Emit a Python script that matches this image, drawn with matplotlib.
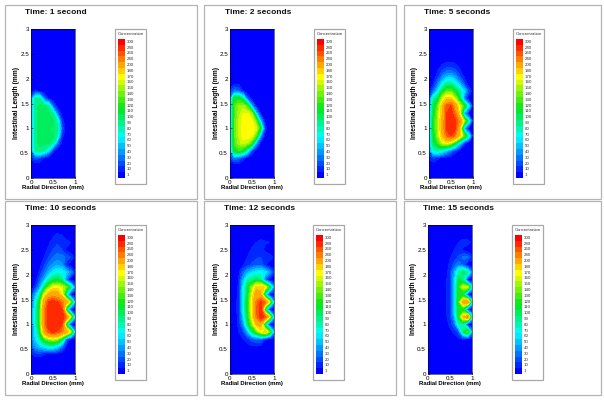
import numpy as np
from matplotlib import pyplot as plt
from matplotlib.colors import LinearSegmentedColormap
from matplotlib.patches import Rectangle

plt.rcParams['font.family'] = ['Liberation Sans', 'DejaVu Sans']

W, H = 604, 401

titles = ["Time: 1 second", "Time: 2 seconds", "Time: 5 seconds",
          "Time: 10 seconds", "Time: 12 seconds", "Time: 15 seconds"]
levels = [1, 10, 20, 30, 40, 50, 60, 70, 80, 90, 100, 110, 120, 130, 140, 150,
          160, 170, 180, 200, 240, 260, 280, 300]
radial = [0, 0.1, 0.2, 0.3, 0.4, 0.5, 0.6, 0.7, 0.8, 0.9, 1.0]
# rows run from the top of the plot to the bottom
axial = [3.0, 2.95, 2.8, 2.65, 2.5, 2.35, 2.2, 2.05, 1.9, 1.75, 1.6, 1.45, 1.3,
         1.15, 1.0, 0.85, 0.7, 0.55, 0.4, 0.25, 0.0]
blank = [1, 1, 1, 1, 1, 1, 1, 1, 1, 1, 1]

conc_1s = [blank, blank, blank, blank, blank, blank, blank, blank, blank,
           [3, 12, 8, 2, 1, 1, 1, 1, 1, 1, 1],
           [35, 92, 92, 35, 8, 2, 1, 1, 1, 1, 1],
           [38, 98, 102, 102, 92, 30, 6, 1, 1, 1, 1],
           [38, 98, 102, 102, 102, 90, 35, 5, 1, 1, 1],
           [38, 98, 102, 102, 102, 102, 88, 15, 2, 1, 1],
           [38, 98, 102, 102, 102, 102, 92, 30, 2, 1, 1],
           [38, 98, 102, 102, 102, 102, 88, 15, 2, 1, 1],
           [38, 98, 102, 102, 102, 90, 35, 5, 1, 1, 1],
           [35, 92, 98, 90, 60, 12, 2, 1, 1, 1, 1],
           [12, 25, 20, 8, 2, 1, 1, 1, 1, 1, 1],
           blank, blank]
conc_2s = [blank, blank, blank, blank, blank, blank, blank, blank,
           [3, 8, 8, 4, 1, 1, 1, 1, 1, 1, 1],
           [15, 35, 30, 10, 3, 1, 1, 1, 1, 1, 1],
           [40, 120, 125, 90, 25, 5, 1, 1, 1, 1, 1],
           [42, 135, 150, 155, 130, 45, 8, 1, 1, 1, 1],
           [42, 135, 155, 170, 170, 150, 55, 8, 1, 1, 1],
           [42, 138, 160, 175, 178, 172, 140, 50, 4, 1, 1],
           [42, 138, 160, 175, 180, 178, 165, 110, 15, 1, 1],
           [42, 138, 160, 175, 178, 170, 135, 40, 3, 1, 1],
           [42, 135, 155, 165, 155, 125, 45, 5, 1, 1, 1],
           [38, 120, 130, 115, 75, 20, 3, 1, 1, 1, 1],
           [15, 38, 32, 14, 3, 1, 1, 1, 1, 1, 1],
           blank, blank]
conc_5s = [blank, blank, blank, blank, blank,
           [1, 1, 3, 6, 8, 8, 6, 3, 1, 1, 1],
           [1, 2, 8, 15, 22, 22, 18, 10, 3, 1, 1],
           [1, 3, 15, 35, 50, 52, 40, 22, 8, 2, 1],
           [2, 10, 35, 65, 90, 90, 75, 50, 22, 3, 1],
           [5, 30, 65, 110, 140, 140, 115, 90, 60, 25, 1],
           [20, 85, 110, 160, 190, 190, 155, 110, 35, 3, 1],
           [30, 110, 140, 195, 270, 280, 215, 165, 125, 70, 3],
           [35, 115, 150, 200, 280, 295, 250, 170, 45, 3, 1],
           [35, 120, 155, 210, 285, 300, 280, 235, 155, 85, 3],
           [35, 120, 155, 210, 285, 300, 285, 190, 50, 3, 1],
           [35, 115, 150, 200, 260, 280, 245, 190, 135, 80, 3],
           [35, 105, 130, 160, 170, 150, 110, 60, 15, 1, 1],
           [30, 80, 85, 75, 55, 35, 15, 4, 1, 1, 1],
           [12, 20, 12, 5, 2, 1, 1, 1, 1, 1, 1],
           blank, blank]
conc_10s = [blank,
            [1, 1, 1, 1, 1, 1, 1, 2, 3, 4, 3],
            [1, 1, 1, 1, 3, 8, 12, 10, 5, 1, 1],
            [1, 1, 1, 3, 8, 14, 18, 16, 13, 10, 5],
            [1, 1, 1, 6, 12, 20, 25, 20, 8, 1, 1],
            [1, 1, 3, 10, 20, 30, 35, 35, 28, 20, 8],
            [1, 1, 6, 18, 32, 42, 48, 42, 14, 2, 1],
            [1, 2, 12, 30, 50, 65, 75, 72, 60, 40, 12],
            [1, 4, 25, 50, 85, 105, 110, 95, 35, 4, 1],
            [3, 15, 45, 95, 140, 170, 175, 165, 140, 95, 35],
            [15, 50, 90, 165, 210, 220, 215, 180, 80, 6, 1],
            [25, 70, 120, 220, 280, 295, 280, 255, 215, 140, 45],
            [30, 75, 125, 240, 300, 300, 300, 285, 100, 8, 1],
            [30, 75, 125, 245, 300, 300, 300, 300, 255, 160, 50],
            [30, 75, 125, 240, 300, 300, 300, 285, 100, 8, 1],
            [30, 70, 115, 215, 270, 290, 275, 250, 225, 160, 50],
            [28, 60, 90, 130, 150, 160, 150, 110, 30, 3, 1],
            [25, 45, 55, 65, 75, 75, 60, 35, 8, 1, 1],
            [8, 15, 15, 10, 6, 4, 2, 1, 1, 1, 1],
            blank, blank]
conc_12s = [blank,
            [1, 1, 1, 1, 1, 1, 2, 3, 5, 6, 4],
            [1, 1, 1, 1, 3, 5, 7, 8, 5, 1, 1],
            [1, 1, 1, 3, 6, 8, 10, 11, 11, 10, 5],
            [1, 1, 2, 5, 8, 11, 13, 14, 7, 1, 1],
            [1, 1, 3, 7, 10, 14, 18, 20, 20, 16, 8],
            [1, 1, 5, 9, 14, 22, 27, 27, 12, 2, 1],
            [1, 2, 8, 30, 50, 60, 70, 72, 65, 45, 15],
            [1, 3, 10, 50, 85, 95, 105, 95, 30, 3, 1],
            [1, 4, 12, 65, 110, 150, 190, 195, 175, 110, 40],
            [1, 5, 13, 70, 115, 165, 220, 205, 70, 5, 1],
            [1, 5, 14, 70, 120, 180, 250, 285, 255, 160, 45],
            [1, 5, 14, 70, 120, 180, 260, 290, 90, 6, 1],
            [1, 5, 13, 60, 115, 170, 250, 300, 265, 170, 50],
            [1, 4, 12, 40, 100, 145, 200, 215, 80, 5, 1],
            [1, 3, 10, 20, 50, 100, 130, 170, 195, 140, 45],
            [1, 2, 6, 10, 15, 25, 30, 30, 10, 2, 1],
            [1, 1, 2, 4, 6, 8, 8, 6, 3, 1, 1],
            blank, blank, blank]
conc_15s = [blank,
            [1, 1, 1, 1, 1, 1, 1, 2, 4, 6, 4],
            [1, 1, 1, 1, 1, 2, 4, 7, 5, 1, 1],
            [1, 1, 1, 1, 2, 5, 8, 10, 14, 14, 8],
            [1, 1, 1, 1, 3, 7, 10, 14, 8, 1, 1],
            [1, 1, 1, 2, 4, 9, 14, 22, 32, 32, 15],
            [1, 1, 1, 3, 5, 12, 25, 38, 25, 2, 1],
            [1, 1, 1, 3, 6, 15, 50, 90, 105, 90, 35],
            [1, 1, 1, 3, 7, 17, 55, 110, 85, 5, 1],
            [1, 1, 1, 3, 8, 18, 60, 125, 165, 165, 60],
            [1, 1, 1, 3, 8, 18, 60, 125, 100, 6, 1],
            [1, 1, 1, 3, 8, 18, 60, 130, 215, 240, 70],
            [1, 1, 1, 3, 8, 18, 60, 125, 105, 6, 1],
            [1, 1, 1, 3, 7, 16, 50, 115, 195, 245, 70],
            [1, 1, 1, 2, 6, 12, 30, 85, 85, 5, 1],
            [1, 1, 1, 1, 3, 7, 12, 25, 100, 140, 40],
            [1, 1, 1, 1, 1, 2, 4, 8, 8, 2, 1],
            blank, blank, blank, blank]
fields = [conc_1s, conc_2s, conc_5s, conc_10s, conc_12s, conc_15s]

# pixel layout of each panel: frame, plot left, plot top, legend left
frames = [(5, 5, 192, 194), (204, 5, 192, 194), (404, 5, 197, 194),
          (5, 201, 192, 194), (204, 201, 192, 194), (404, 201, 197, 194)]
plot_left = [31, 230, 429, 31, 230, 428]
plot_top = [29, 29, 29, 225, 225, 225]
legend_left = [115, 314, 513, 115, 313, 512]
title_left = [25, 225, 424, 25, 224, 423]
title_y = [12, 12, 12, 208, 208, 208]

rainbow = LinearSegmentedColormap.from_list(
    "tec", [(0, (0, 0, 1)), (6.5/23, (0, 1, 1)), (11.5/23, (0, 0.9, 0.1)),
            (17/23, (1, 1, 0)), (1, (1, 0, 0))])
band_colors = [rainbow(i/23) for i in range(24)]


def px_axes(fig, x, y, w, h, **kw):
    """Axes from pixel coordinates with the origin top left."""
    return fig.add_axes([x/W, 1 - (y + h)/H, w/W, h/H], **kw)


def draw_panel(fig, i):
    fx, fy, fw, fh = frames[i]
    fig.add_artist(Rectangle((fx/W, 1 - (fy + fh)/H), fw/W, fh/H, transform=fig.transFigure,
                             fc="white", ec="#b4b4b4", lw=0.9, zorder=-2))
    fig.text(title_left[i]/W, 1 - title_y[i]/H, titles[i], fontsize=6, fontweight="bold",
             va="center", ha="left", color="#111111")

    ax = px_axes(fig, plot_left[i], plot_top[i], 44, 149)
    ax.contourf(radial, axial, np.array(fields[i], dtype=float), levels=levels + [400], colors=band_colors)
    ax.set_xlim(0, 1)
    ax.set_ylim(0, 3)
    ax.set_xticks([0, 0.5, 1], ["0", "0.5", "1"])
    ax.set_yticks([0, 0.5, 1, 1.5, 2, 2.5, 3], ["0", "0.5", "1", "1.5", "2", "2.5", "3"])
    ax.tick_params(labelsize=4.5, length=1.5, width=0.4, pad=1.5, direction="in")
    fig.text((plot_left[i] + 22)/W, 1 - (plot_top[i] + 159)/H, "Radial Direction (mm)", fontsize=4.3,
             fontweight="bold", ha="center", va="center")
    fig.text((plot_left[i] - 14)/W, 1 - (plot_top[i] + 74)/H, "Intestinal Length (mm)", fontsize=4.8,
             fontweight="bold", ha="center", va="center", rotation=90)
    for s in ax.spines.values():
        s.set_linewidth(0.4)

    # legend box with one colour cell per contour level
    lx, ly = legend_left[i], plot_top[i]
    fig.add_artist(Rectangle((lx/W, 1 - (ly + 155)/H), 31/W, 155/H, transform=fig.transFigure,
                             fc="white", ec="#a8a8a8", lw=0.9, zorder=-1))
    fig.text((lx + 15.5)/W, 1 - (ly + 5)/H, "Concentration", fontsize=3.1, ha="center", va="center", color="#333333")
    cax = px_axes(fig, lx + 2.5, ly + 10, 6.5, 139)
    cax.imshow(np.arange(24).reshape(-1, 1), origin="lower", aspect="auto",
               cmap=rainbow, vmin=0, vmax=23, interpolation="nearest", extent=(0, 1, -0.5, 23.5))
    cax.axis("off")
    for k, lev in enumerate(levels):
        fig.text((lx + 11.5)/W, 1 - (ly + 149 - (k + 0.5)*139/24)/H, str(lev), fontsize=3.2,
                 ha="left", va="center", color="#333333")


fig = plt.figure(figsize=(W/100, H/100), dpi=100)
for i in range(6):
    draw_panel(fig, i)
fig.savefig("out.png", dpi=100)
